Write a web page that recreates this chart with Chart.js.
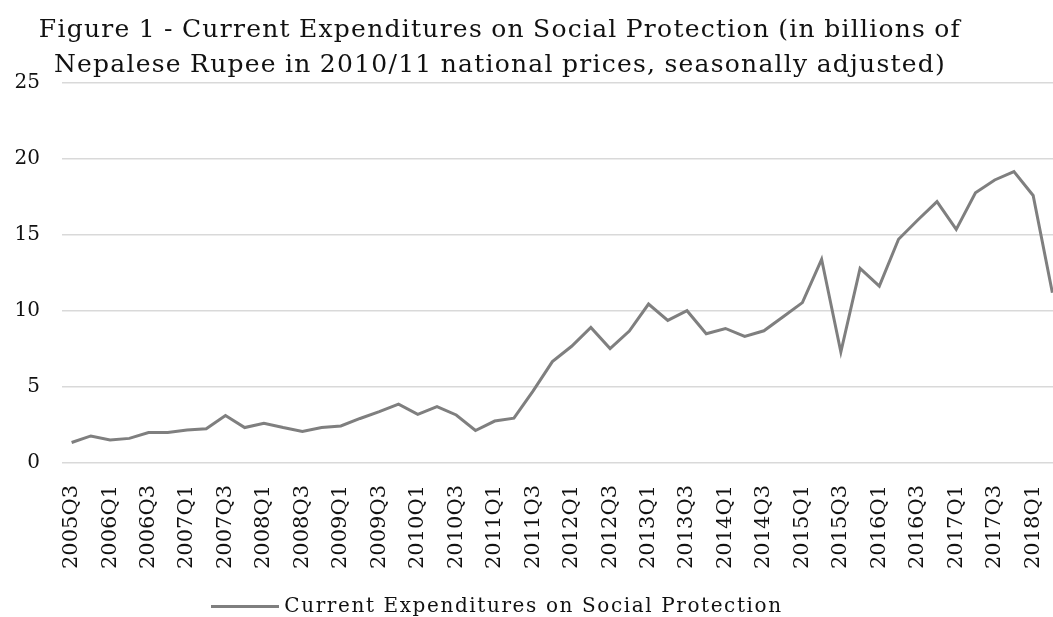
<!DOCTYPE html>
<html>
<head>
<meta charset="utf-8">
<script src="https://cdn.jsdelivr.net/npm/chart.js@4"></script>
<style>
    html, body { margin: 0; padding: 0; background: #fff; overflow: hidden; }
    #wrap { position: relative; width: 1064px; height: 617px; }
    #chart { display: block; }
    #title {
        position: absolute; left: 0; top: 11px; width: 1000px;
        text-align: center; font-family: "DejaVu Serif", serif; font-size: 25px;
        letter-spacing: 1.25px; word-spacing: -1px;
        line-height: 35px; color: #111;
    }
    #legend {
        position: absolute; left: 0; top: 592px; width: 994px;
        text-align: center; font-family: "DejaVu Serif", serif; font-size: 20px;
        letter-spacing: 1.6px;
        line-height: 26px; color: #111;
    }
    #legend .swatch {
        display: inline-block; width: 68px; height: 3px; background: #7f7f7f;
        vertical-align: middle; margin-right: 5px;
    }
</style>
</head>
<body>
<div id="wrap">
    <canvas id="chart" width="1064" height="617"></canvas>
    <div id="title">Figure 1 - Current Expenditures on Social Protection (in billions of<br>Nepalese Rupee in 2010/11 national prices, seasonally adjusted)</div>
    <div id="legend"><span class="swatch"></span>Current Expenditures on Social Protection</div>
</div>
<script>
// Quarters shown on the x axis (2005Q3 .. 2018Q2)
const quarters = [
    '2005Q3', '2005Q4',
    '2006Q1', '2006Q2', '2006Q3', '2006Q4',
    '2007Q1', '2007Q2', '2007Q3', '2007Q4',
    '2008Q1', '2008Q2', '2008Q3', '2008Q4',
    '2009Q1', '2009Q2', '2009Q3', '2009Q4',
    '2010Q1', '2010Q2', '2010Q3', '2010Q4',
    '2011Q1', '2011Q2', '2011Q3', '2011Q4',
    '2012Q1', '2012Q2', '2012Q3', '2012Q4',
    '2013Q1', '2013Q2', '2013Q3', '2013Q4',
    '2014Q1', '2014Q2', '2014Q3', '2014Q4',
    '2015Q1', '2015Q2', '2015Q3', '2015Q4',
    '2016Q1', '2016Q2', '2016Q3', '2016Q4',
    '2017Q1', '2017Q2', '2017Q3', '2017Q4',
    '2018Q1', '2018Q2'
];

// Current expenditures on social protection, billions NPR
const expenditures = [
    1.35, 1.78,
    1.52, 1.62, 2.0, 2.0,
    2.17, 2.25, 3.12, 2.33,
    2.62, 2.33, 2.07, 2.33,
    2.44, 2.93, 3.38, 3.87,
    3.2, 3.71, 3.16, 2.14,
    2.76, 2.95, 4.75, 6.67,
    7.68, 8.92, 7.53, 8.68,
    10.46, 9.38, 10.02, 8.5,
    8.85, 8.33, 8.7, 9.62,
    10.55, 13.4, 7.3, 12.8,
    11.64, 14.72, 15.99, 17.2,
    15.37, 17.78, 18.62, 19.17,
    17.6, 11.2
];

const seriesName = 'Current Expenditures on Social Protection';
const yTicks = { min: 0, max: 25, step: 5 };

const ctx = document.getElementById('chart').getContext('2d');
const chart = new Chart(ctx, {
    type: 'line',
    data: {
        labels: quarters,
        datasets: [{
            label: seriesName,
            data: expenditures,
            borderColor: '#7f7f7f',
            borderWidth: 3,
            pointRadius: 0,
            tension: 0,
            fill: false
        }]
    },
    options: {
        responsive: false,
        animation: false,
        devicePixelRatio: 1,
        layout: {
            padding: { top: 83, right: 2, bottom: 34, left: 0 }
        },
        plugins: {
            legend: { display: false },
            title: { display: false },
            tooltip: { enabled: false }
        },
        scales: {
            x: {
                offset: true,
                grid: { display: false },
                border: { display: false },
                ticks: {
                    autoSkip: false,
                    minRotation: 90,
                    maxRotation: 90,
                    padding: 14,
                    color: '#111',
                    font: { family: 'DejaVu Serif', size: 21 },
                    // only every other quarter is labelled
                    callback: function(value, index) {
                        return index % 2 === 0 ? this.getLabelForValue(value) : '';
                    }
                },
                afterFit: function(scale) {
                    scale.height = 120;
                    // don't let the rotated labels pull the plot in from the sides
                    scale.paddingLeft = 0;
                    scale.paddingRight = 0;
                }
            },
            y: {
                min: yTicks.min,
                max: yTicks.max,
                grid: { color: '#d9d9d9', lineWidth: 1.5, drawTicks: false },
                border: { display: false },
                ticks: {
                    stepSize: yTicks.step,
                    padding: 22,
                    color: '#111',
                    font: { family: 'DejaVu Serif', size: 20 }
                },
                afterFit: function(scale) { scale.width = 62; }
            }
        }
    }
});
</script>
</body>
</html>
